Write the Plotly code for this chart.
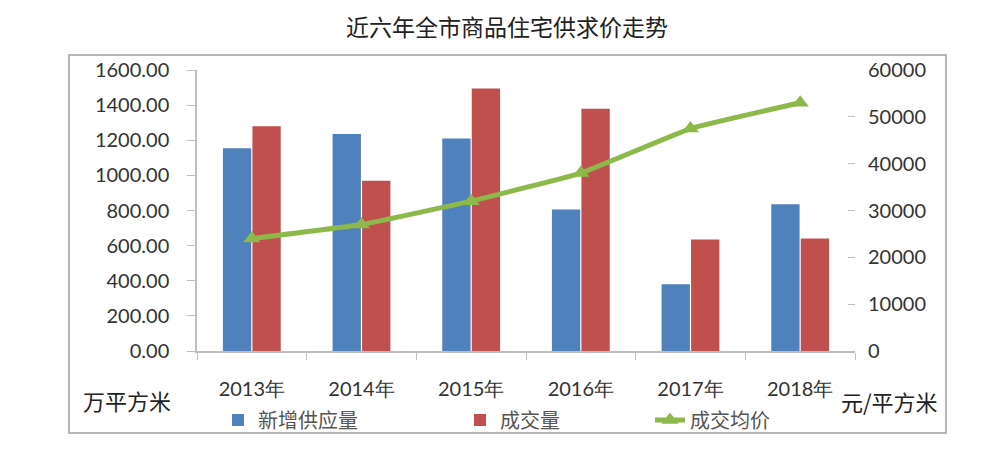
import plotly.graph_objects as go

years = ["2013年", "2014年", "2015年", "2016年", "2017年", "2018年"]
supply = [1155, 1235, 1210, 805, 380, 835]          # 新增供应量 (万平方米)
deals = [1280, 970, 1495, 1380, 635, 640]           # 成交量 (万平方米)
price = [24000, 27000, 32000, 38000, 47500, 53000]  # 成交均价 (元/平方米)
left_ticks = [0, 200, 400, 600, 800, 1000, 1200, 1400, 1600]
right_ticks = [0, 10000, 20000, 30000, 40000, 50000, 60000]

# page body has an 8px margin; figure placed at (8, 8)
OFF = 8
W, H = 1000 - 2 * OFF, 449 - 2 * OFF
# plot area in screen pixels: x 197..855, y 70..351
PX0, PX1, PY0, PY1 = 197, 855, 70, 351
L, R, T, B = PX0 - OFF, W - (PX1 - OFF), PY0 - OFF, H - (PY1 - OFF)
pw, ph = PX1 - PX0, PY1 - PY0

def px(x):
    return (x - PX0) / pw

def py(y):
    return (PY1 - y) / ph

num_font = dict(family="Lato, Liberation Sans, sans-serif", size=20, color="#333333")
cjk = "Noto Sans CJK SC"

fig = go.Figure()
fig.add_trace(go.Bar(x=years, y=supply, name="新增供应量", marker_color="#4F81BD",
                     marker_line_width=0, legend="legend"))
fig.add_trace(go.Bar(x=years, y=deals, name="成交量", marker_color="#C0504D",
                     marker_line_width=0, legend="legend2"))
fig.add_trace(go.Scatter(x=years, y=price, name="成交均价", yaxis="y2", mode="lines+markers",
                         line=dict(color="#8DB84A", width=5, shape="spline", smoothing=0.3),
                         marker=dict(symbol="triangle-up", size=15, color="#8DB84A"),
                         legend="legend3"))

leg_common = dict(orientation="h", yanchor="middle", y=py(420), xanchor="left",
                  font=dict(family=cjk, size=20, color="#555555"), bgcolor="rgba(0,0,0,0)")

fig.update_layout(
    width=W, height=H,
    margin=dict(l=L, r=R, t=T, b=B, autoexpand=False),
    paper_bgcolor="white", plot_bgcolor="white",
    barmode="group", bargap=0.462, bargroupgap=0.04,
    xaxis=dict(type="category", showline=True, linecolor="#BFBFBF", linewidth=1.5,
               ticks="outside", tickson="boundaries", ticklen=7, tickcolor="#BFBFBF",
               tickfont=num_font, ticklabelstandoff=19, showgrid=False, automargin=False),
    yaxis=dict(range=[0, 1600], tickvals=left_ticks, tickformat=".2f", showline=True,
               linecolor="#BFBFBF", linewidth=1.5, ticks="outside", ticklen=8,
               tickcolor="#BFBFBF", tickfont=num_font, showgrid=False, zeroline=False,
               ticklabelstandoff=14, automargin=False),
    yaxis2=dict(range=[0, 60000], tickvals=right_ticks, tickformat="d", overlaying="y",
                side="right", showline=False, ticks="inside", ticklen=7, tickcolor="#BFBFBF",
                tickfont=num_font, showgrid=False, zeroline=False, ticklabelstandoff=12,
                automargin=False),
    legend=dict(leg_common, x=px(218)),
    legend2=dict(leg_common, x=px(460)),
    legend3=dict(leg_common, x=px(650)),
    showlegend=True,
)

fig.add_annotation(text="近六年全市商品住宅供求价走势", xref="paper", yref="paper",
                   x=px(507), y=py(26), xanchor="center", yanchor="middle",
                   showarrow=False, font=dict(family=cjk, size=23, color="#222222"))
fig.add_annotation(text="万平方米", xref="paper", yref="paper", x=px(127), y=py(400),
                   xanchor="center", yanchor="middle",
                   showarrow=False, font=dict(family=cjk, size=22, color="#222222"))
fig.add_annotation(text="元/平方米", xref="paper", yref="paper", x=px(890), y=py(401),
                   xanchor="center", yanchor="middle",
                   showarrow=False, font=dict(family=cjk, size=22, color="#222222"))

fig.add_shape(type="rect", xref="paper", yref="paper", x0=px(69), x1=px(946),
              y0=py(433), y1=py(55), line=dict(color="#A0A0A0", width=1.5), layer="below")

fig.write_html("out.html")
